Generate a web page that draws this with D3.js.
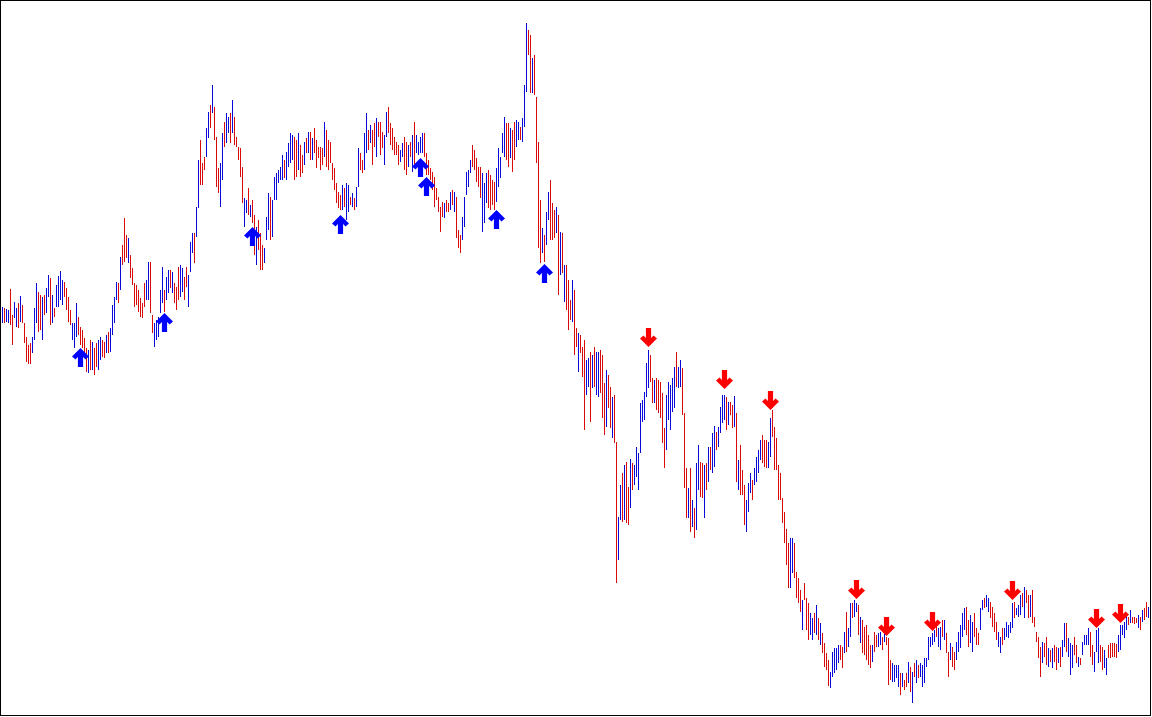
<!DOCTYPE html>
<html>
<head>
<meta charset="utf-8">
<title>bar chart with signal arrows</title>
<script src="https://cdnjs.cloudflare.com/ajax/libs/d3/7.8.5/d3.min.js"></script>
<style>
  body { margin: 0; background: #fff; }
  svg { display: block; }
</style>
</head>
<body>
<div id="chart"></div>
<script>
// bar highs / lows (price units), one value per bar, left to right
var highs = [
  693,692,691,690,711,685,698,692,697,704, 695,677,663,655,657,663,692,717,708,705,
  703,705,712,725,722,705,692,715,724,729, 720,718,712,703,690,677,677,697,683,673,
  670,662,652,650,660,658,652,657,660,663, 660,658,665,668,672,695,703,718,717,743,
  755,782,765,762,745,732,717,715,710,702, 697,717,720,738,738,685,677,680,683,710,
  733,710,723,730,730,728,717,713,733,735, 732,723,733,725,758,767,767,793,840,860,
  837,843,872,888,895,915,893,863,832,837, 867,878,887,883,887,900,883,863,853,852,
  833,802,800,812,795,800,785,773,780,767, 755,752,783,807,803,800,823,827,830,833,
  845,840,848,857,867,865,863,860,867,855, 845,858,862,868,868,862,872,860,853,853,
  852,878,870,860,858,837,832,817,808,805, 815,812,817,815,803,807,802,813,852,847,
  840,867,887,870,875,870,877,882,878,878, 868,865,888,893,877,872,863,858,855,850,
  857,863,858,855,858,865,878,865,858,863, 867,867,847,840,832,828,823,812,803,793,
  798,797,800,797,808,810,808,803,770,765, 783,803,828,830,840,855,850,842,833,833,
  827,817,827,830,825,820,818,832,852,843, 867,883,877,877,872,870,878,880,878,873,
  882,915,977,970,965,942,945,903,858,800, 772,765,788,808,820,797,790,793,785,768,
  767,735,735,720,700,720,710,672,667,665, 653,660,640,642,648,645,653,648,648,650,
  645,617,630,625,613,603,605,558,483,515, 527,535,538,513,541,537,535,553,547,597,
  600,608,637,650,645,622,620,622,620,618, 607,572,605,618,615,622,633,648,633,640,
  632,587,532,512,532,500,492,537,555,538, 537,535,537,553,553,567,574,568,573,593,
  605,605,603,598,598,595,604,587,540,555, 530,515,500,517,527,520,532,543,550,560,
  565,560,560,558,582,590,573,562,535,527, 502,488,471,457,462,462,457,428,422,410,
  400,417,402,397,387,382,387,395,382,377, 367,357,347,340,328,348,352,352,355,355,
  353,368,388,372,397,397,400,397,395,383, 380,373,375,365,355,355,368,365,367,368,
  363,368,363,362,340,337,335,335,335,327, 327,320,327,338,333,328,337,340,335,337,
  335,342,342,363,363,367,370,375,372,373, 380,380,367,348,357,353,348,358,368,375,
  387,392,393,380,385,378,387,372,367,392, 400,402,405,402,398,393,387,378,368,363,
  372,372,378,375,378,397,398,392,395,405, 407,413,410,405,405,410,383,368,363,353,
  358,357,363,352,350,352,355,353,352,353, 360,377,377,362,357,355,363,355,343,342,
  358,365,365,372,368,355,348,370,372,355, 353,350,342,355,357,357,357,356,365,375,
  375,378,387,383,390,383,383,382,385,383, 390,392,398,393,388
];

var lows = [
  677,677,678,677,675,655,682,673,672,678, 677,657,638,636,636,647,660,677,668,670,
  660,685,687,703,675,677,683,693,693,700, 695,703,690,678,675,660,652,663,665,655,
  652,643,628,627,630,630,625,633,630,640, 643,642,647,647,648,665,677,700,697,710,
  735,738,742,737,722,715,693,695,688,683, 682,693,700,700,687,667,653,660,663,687,
  697,688,700,707,712,707,697,690,700,703, 708,700,713,693,728,747,737,763,792,815,
  815,830,843,862,872,887,860,813,807,793, 820,853,857,867,857,867,855,853,840,823,
  797,773,787,785,783,777,745,735,750,730, 730,737,760,770,760,763,800,800,817,820,
  820,822,820,833,837,840,820,823,830,823, 827,835,847,847,840,840,847,832,842,830,
  835,843,833,830,837,820,810,797,792,790, 790,793,780,788,795,793,790,793,813,830,
  827,830,847,850,857,835,853,843,863,845, 852,835,863,867,855,850,845,845,835,838,
  843,830,825,833,843,828,835,847,845,847, 847,843,825,825,820,810,793,800,788,768,
  783,782,788,788,790,795,788,762,752,747, 760,773,805,813,827,833,830,818,813,802,
  768,777,797,792,790,795,790,798,813,822, 847,843,840,833,842,828,840,853,860,860,
  858,873,908,945,907,907,905,837,752,737, 747,738,755,780,760,760,762,767,705,725,
  727,698,690,670,680,678,645,653,628,647, 623,570,605,613,578,612,613,605,603,607,
  582,565,573,592,572,562,557,417,440,480, 478,480,477,475,492,510,515,523,510,547,
  578,580,603,612,618,597,597,590,587,582, 557,532,550,580,570,588,592,613,612,613,
  585,512,482,482,468,473,462,470,510,503, 502,482,510,518,530,527,533,550,553,567,
  577,580,570,575,585,572,573,518,510,505, 505,475,468,488,507,500,515,518,527,540,
  537,533,532,532,543,563,530,530,500,500, 477,457,435,412,412,427,422,402,397,388,
  370,400,370,360,365,360,367,365,360,355, 347,333,330,314,312,323,327,330,337,340,
  332,347,348,353,363,382,383,388,365,357, 347,345,340,335,332,338,348,353,353,355,
  350,358,355,315,320,318,318,322,313,305, 313,310,313,317,308,297,323,317,322,323,
  313,317,333,340,353,355,358,363,353,350, 363,360,347,323,340,333,330,340,348,352,
  363,370,365,353,357,348,363,355,355,370, 390,392,393,388,382,373,368,360,353,347,
  355,360,363,362,367,372,382,385,383,385, 393,382,397,382,383,377,373,358,342,323,
  337,343,335,333,338,332,338,330,337,333, 343,353,348,343,325,332,345,337,333,335,
  345,355,355,355,343,335,328,348,337,338, 330,332,325,342,342,343,343,342,348,350,
  365,362,370,375,377,377,376,377,372,370, 378,380,383,382,375
];

// "+" bar closed up, "-" bar closed down
var trend = [
  "+-++--++-+", "-----+++--", "+-++-+-+++", "+----+++--", "---+-+--++",
  "--+-++++-+", "---+------", "--++--++++", "+-++-+---+", "+--+++-++-",
  "--++-+---+", "+-++-+----", "-++-+--+--", "-+++-+++++", "+-++++--+-",
  "-+-+-+----", "-+--------", "+-++-+-++-", "-++-+--+--", "-++------+",
  "+--+-+-+++", "+---------", "-+--+-+---", "+++++-----", "+++----+++",
  "++--+--++-", "+++--+----", "+-++---+-+", "-+---+--+-", "--++-+-++-",
  "--+--+--++", "-+--+-++++", "++++--+---", "--+++++-++", "---+-+-++-",
  "-+-+-++-++", "++-+--+-+-", "--+++-++++", "---++-----", "----++----",
  "+---++-+-+", "----+++++-", "-+-++-++-+", "-----+--++", "-+---++++-",
  "+--+-+-+-+", "+++++++-++", "-+--+--+++", "++--++---+", "+-++----++",
  "-+++++-+++", "-+--+-----", "+--+-+--+-", "++-+++--+-", "++++--+++-",
  "-++-----++", "+++-+---+-", "+--+-"
].join("");

// signal arrows: [bar index, price of the arrow tip]
var upSignals = [[39, 652], [81, 687], [125, 773], [169, 785], [209, 842], [212, 823], [247, 790], [271, 736]];
var downSignals = [[323, 653], [361, 611], [384, 590], [427, 401], [442, 364], [465, 369], [505, 400], [547, 372], [559, 377]];

var width = 1152, height = 717;

var bars = highs.map(function(h, i) {
  return { i: i, high: h, low: lows[i], up: trend[i] === "+" };
});

var x = d3.scaleLinear().domain([0, bars.length - 1]).range([2.5, 1150.5]);
var y = d3.scaleLinear().domain([283, 1000]).range([height, 0]);

var svg = d3.select("#chart").append("svg")
  .attr("width", width)
  .attr("height", height);

svg.append("rect")
  .attr("width", width).attr("height", height)
  .attr("fill", "#fff");

svg.append("g")
  .attr("shape-rendering", "crispEdges")
  .selectAll("line")
  .data(bars)
  .enter().append("line")
  .attr("x1", function(d) { return x(d.i); })
  .attr("x2", function(d) { return x(d.i); })
  .attr("y1", function(d) { return y(d.high); })
  .attr("y2", function(d) { return y(d.low); })
  .attr("stroke", function(d) { return d.up ? "#0a0ad8" : "#d80a0a"; })
  .attr("stroke-width", 1);

// thick arrow, tip at 0,0 pointing up
var arrowPath = "M0,0L8.5,8.5L5,11.5L2.6,9L2.6,19L-2.6,19L-2.6,9L-5,11.5L-8.5,8.5Z";

svg.append("g").selectAll("path.up")
  .data(upSignals)
  .enter().append("path")
  .attr("class", "up")
  .attr("d", arrowPath)
  .attr("fill", "#0000ff")
  .attr("transform", function(d) { return "translate(" + x(d[0]) + "," + y(d[1]) + ")"; });

svg.append("g").selectAll("path.down")
  .data(downSignals)
  .enter().append("path")
  .attr("class", "down")
  .attr("d", arrowPath)
  .attr("fill", "#ff0000")
  .attr("transform", function(d) { return "translate(" + x(d[0]) + "," + y(d[1]) + ") scale(1,-1)"; });

// frame
svg.append("rect")
  .attr("x", 0.5).attr("y", 0.5)
  .attr("width", width - 2).attr("height", height - 2)
  .attr("fill", "none")
  .attr("stroke", "#000")
  .attr("stroke-width", 1)
  .attr("shape-rendering", "crispEdges");
</script>
</body>
</html>
